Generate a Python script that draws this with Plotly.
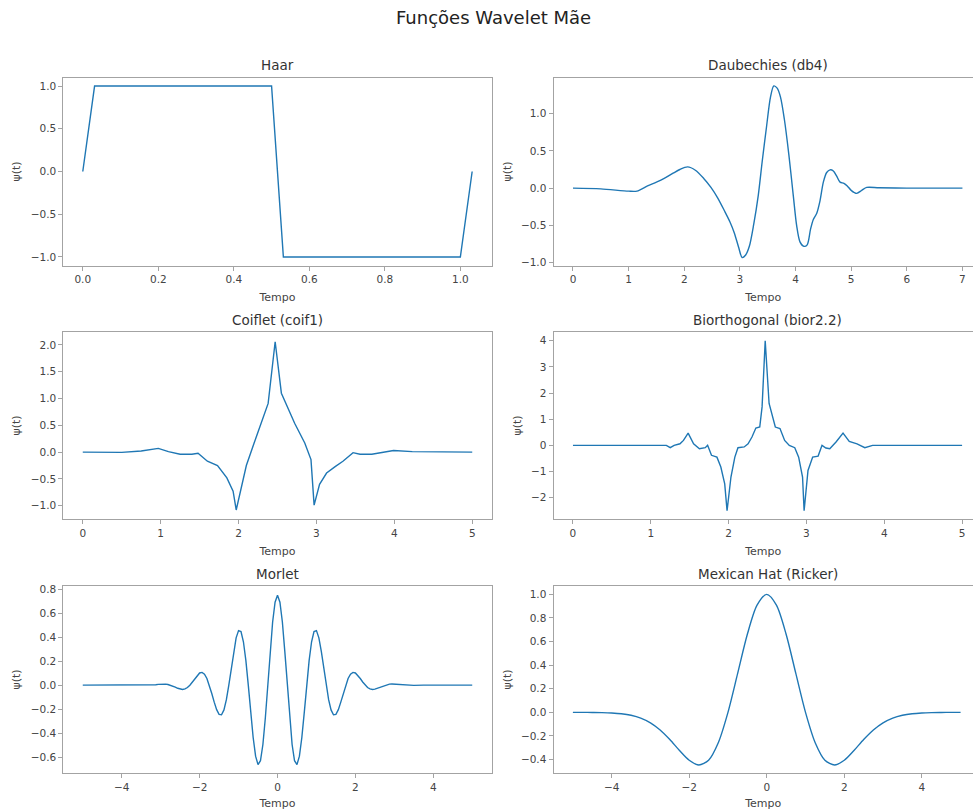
import plotly.graph_objects as go

# ---------------- data ----------------
haar_t = [0.0, 0.03125, 0.5, 0.53125, 1.0, 1.03125]
haar_psi = [0.0, 1.0, 1.0, -1.0, -1.0, 0.0]

db4_t = [0.0, 0.5, 1.0, 1.15, 1.34, 1.5, 1.64, 1.8, 1.92, 2.06, 2.2, 2.35, 2.48, 2.6,
         2.72, 2.82, 2.9, 2.98, 3.04, 3.1, 3.17, 3.25, 3.33, 3.4, 3.48, 3.55, 3.61,
         3.67, 3.73, 3.8, 3.88, 3.96, 4.02, 4.08, 4.15, 4.21, 4.27, 4.32, 4.38, 4.44,
         4.5, 4.56, 4.62, 4.68, 4.74, 4.8, 4.87, 4.93, 5.0, 5.1, 5.19, 5.28, 5.5, 6.0, 7.0]
db4_psi = [0.0, -0.01, -0.04, -0.04, 0.03, 0.08, 0.13, 0.2, 0.25, 0.285, 0.24, 0.13, 0.01,
           -0.13, -0.3, -0.45, -0.6, -0.8, -0.93, -0.9, -0.78, -0.48, -0.1, 0.35, 0.83,
           1.22, 1.37, 1.34, 1.22, 0.92, 0.45, -0.1, -0.5, -0.72, -0.78, -0.76, -0.55,
           -0.42, -0.34, -0.17, 0.08, 0.21, 0.245, 0.23, 0.16, 0.08, 0.065, 0.03, -0.03,
           -0.07, -0.03, 0.01, 0.005, 0.0, 0.0]

coif1_t = [0.0, 0.5, 0.75, 0.97, 1.1, 1.25, 1.4, 1.48, 1.6, 1.73, 1.85, 1.93, 1.97, 2.05,
           2.1, 2.2, 2.3, 2.38, 2.47, 2.55, 2.72, 2.85, 2.93, 2.97, 3.04, 3.13, 3.24, 3.34,
           3.47, 3.56, 3.71, 3.99, 4.23, 5.0]
coif1_psi = [0.0, -0.005, 0.02, 0.07, 0.01, -0.04, -0.04, -0.02, -0.17, -0.25, -0.48, -0.73,
             -1.08, -0.58, -0.25, 0.17, 0.6, 0.91, 2.06, 1.1, 0.54, 0.17, -0.14, -0.99, -0.6,
             -0.39, -0.27, -0.17, -0.01, -0.04, -0.04, 0.03, 0.01, 0.0]

bior_t = [0.0, 1.2, 1.25, 1.3, 1.375, 1.42, 1.48, 1.55, 1.625, 1.7, 1.73, 1.78, 1.85, 1.9,
          1.95, 1.98, 2.03, 2.08, 2.12, 2.2, 2.25, 2.3, 2.35, 2.4, 2.43, 2.47, 2.52, 2.57,
          2.6, 2.66, 2.72, 2.78, 2.85, 2.9, 2.95, 2.97, 3.02, 3.08, 3.15, 3.2, 3.25, 3.3,
          3.38, 3.47, 3.55, 3.65, 3.7, 3.75, 3.85, 3.9, 5.0]
bior_psi = [0.0, 0.0, -0.09, 0.0, 0.06, 0.19, 0.47, 0.06, -0.13, -0.09, 0.0, -0.38, -0.45,
            -0.83, -1.47, -2.5, -1.21, -0.45, -0.09, -0.06, 0.06, 0.32, 0.66, 0.7, 1.47, 4.0,
            1.6, 1.09, 0.7, 0.64, 0.19, 0.0, -0.09, -0.45, -1.21, -2.5, -0.96, -0.45, -0.41,
            0.0, -0.1, -0.13, 0.13, 0.47, 0.15, 0.06, 0.0, -0.09, 0.0, 0.0, 0.0]

morlet_t = [-5.0, -4.75, -4.5, -4.25, -4.0, -3.75,
            -3.5, -3.4375, -3.375, -3.3125, -3.25, -3.1875, -3.125, -3.0625,
            -3.0, -2.9375, -2.875, -2.8125, -2.75, -2.6875, -2.625, -2.5625,
            -2.5, -2.4375, -2.375, -2.3125, -2.25, -2.1875, -2.125, -2.0625,
            -2.0, -1.9375, -1.875, -1.8125, -1.75, -1.6875, -1.625, -1.5625,
            -1.5, -1.4375, -1.375, -1.3125, -1.25, -1.1875, -1.125, -1.0625,
            -1.0, -0.9375, -0.875, -0.8125, -0.75, -0.6875, -0.625, -0.5625,
            -0.5, -0.4375, -0.375, -0.3125, -0.25, -0.1875, -0.125, -0.0625,
            0.0,
            0.0625, 0.125, 0.1875, 0.25, 0.3125, 0.375, 0.4375, 0.5,
            0.5625, 0.625, 0.6875, 0.75, 0.8125, 0.875, 0.9375, 1.0,
            1.0625, 1.125, 1.1875, 1.25, 1.3125, 1.375, 1.4375, 1.5,
            1.5625, 1.625, 1.6875, 1.75, 1.8125, 1.875, 1.9375, 2.0,
            2.0625, 2.125, 2.1875, 2.25, 2.3125, 2.375, 2.4375, 2.5,
            2.5625, 2.625, 2.6875, 2.75, 2.8125, 2.875, 2.9375, 3.0,
            3.0625, 3.125, 3.1875, 3.25, 3.3125, 3.375, 3.4375, 3.5,
            3.75, 4.0, 4.25, 4.5, 4.75, 5.0]
morlet_psi = [0.0, 0.0, 0.0, 0.0, 0.0, 0.0,
              -0.0016, -0.0018, -0.0018, -0.0012, 0.0, 0.0018, 0.004, 0.0064,
              0.0083, 0.0092, 0.0085, 0.0055, 0.0, -0.0078, -0.0169, -0.0261,
              -0.033, -0.0356, -0.0317, -0.0198, 0.0, 0.0263, 0.0556, 0.0827,
              0.1016, 0.1062, 0.0916, 0.0556, 0.0, -0.0692, -0.1418, -0.2046,
              -0.2438, -0.247, -0.2065, -0.1215, 0.0, 0.142, 0.2821, 0.3946,
              0.4555, 0.4472, 0.362, 0.2066, 0.0, -0.2269, -0.437, -0.5923,
              -0.663, -0.6306, -0.495, -0.2737, 0.0, 0.2824, 0.5268, 0.6925,
              0.751,
              0.6925, 0.5268, 0.2824, 0.0, -0.2737, -0.495, -0.6306, -0.663,
              -0.5923, -0.437, -0.2269, 0.0, 0.2066, 0.362, 0.4472, 0.4555,
              0.3946, 0.2821, 0.142, 0.0, -0.1215, -0.2065, -0.247, -0.2438,
              -0.2046, -0.1418, -0.0692, 0.0, 0.0556, 0.0916, 0.1062, 0.1016,
              0.0827, 0.0556, 0.0263, 0.0, -0.0198, -0.0317, -0.0356, -0.033,
              -0.0261, -0.0169, -0.0078, 0.0, 0.0055, 0.0085, 0.0092, 0.0083,
              0.0064, 0.004, 0.0018, 0.0, -0.0012, -0.0018, -0.0018, -0.0016,
              0.0, 0.0, 0.0, 0.0, 0.0, 0.0]

mexhat_t = [-5.0, -4.75, -4.5, -4.25, -4.0, -3.75, -3.5, -3.25, -3.0, -2.75, -2.5, -2.25,
            -2.0, -1.75, -1.5, -1.25, -1.0, -0.75, -0.5, -0.25, 0.0, 0.25, 0.5, 0.75, 1.0,
            1.25, 1.5, 1.75, 2.0, 2.25, 2.5, 2.75, 3.0, 3.25, 3.5, 3.75, 4.0, 4.25, 4.5,
            4.75, 5.0]
mexhat_psi = [-0.0001, -0.0003, -0.0008, -0.002, -0.005, -0.0115, -0.0246, -0.0487, -0.0889,
              -0.1496, -0.2305, -0.3234, -0.406, -0.4461, -0.4059, -0.2575, 0.0, 0.3302,
              0.6619, 0.9086, 1.0, 0.9086, 0.6619, 0.3302, 0.0, -0.2575, -0.4059, -0.4461,
              -0.406, -0.3234, -0.2305, -0.1496, -0.0889, -0.0487, -0.0246, -0.0115, -0.005,
              -0.002, -0.0008, -0.0003, -0.0001]

titles = ["Haar", "Daubechies (db4)", "Coiflet (coif1)", "Biorthogonal (bior2.2)",
          "Morlet", "Mexican Hat (Ricker)"]
main_title = "Funções Wavelet Mãe"
x_label = "Tempo"
y_label = "ψ(t)"

haar_xticks = [0.0, 0.2, 0.4, 0.6, 0.8, 1.0]
haar_yticks = [-1.0, -0.5, 0.0, 0.5, 1.0]
db4_xticks = [0, 1, 2, 3, 4, 5, 6, 7]
db4_yticks = [-1.0, -0.5, 0.0, 0.5, 1.0]
coif1_xticks = [0, 1, 2, 3, 4, 5]
coif1_yticks = [-1.0, -0.5, 0.0, 0.5, 1.0, 1.5, 2.0]
bior_xticks = [0, 1, 2, 3, 4, 5]
bior_yticks = [-2, -1, 0, 1, 2, 3, 4]
morlet_xticks = [-4, -2, 0, 2, 4]
morlet_yticks = [-0.6, -0.4, -0.2, 0.0, 0.2, 0.4, 0.6, 0.8]
mexhat_xticks = [-4, -2, 0, 2, 4]
mexhat_yticks = [-0.4, -0.2, 0.0, 0.2, 0.4, 0.6, 0.8, 1.0]

# ---------------- layout helpers ----------------
W, H = 973, 810
FONT = "DejaVu Sans"
LINE_BLUE = "#1f77b4"
FRAME = "#a3a3a3"
TICK_SIZE = 10.5
LABEL_SIZE = 11

def px_x(p):
    return p / W

def px_y(p):
    return 1 - p / H

col_dom = [[px_x(63.3), px_x(491.7)], [px_x(553.5), 1.0]]
row_dom = [[px_y(265.5), px_y(77.5)], [px_y(519.3), px_y(331.7)], [px_y(773.0), px_y(586.0)]]

panels = [
    dict(t=haar_t, y=haar_psi, shape="linear", xr=[-0.0516, 1.083], yr=[-1.1, 1.1],
         xt=haar_xticks, yt=haar_yticks, xf=".1f", yf=".1f"),
    dict(t=db4_t, y=db4_psi, shape="spline", xr=[-0.35, 7.19], yr=[-1.037, 1.483],
         xt=db4_xticks, yt=db4_yticks, xf="d", yf=".1f"),
    dict(t=coif1_t, y=coif1_psi, shape="linear", xr=[-0.25, 5.25], yr=[-1.254, 2.248],
         xt=coif1_xticks, yt=coif1_yticks, xf="d", yf=".1f"),
    dict(t=bior_t, y=bior_psi, shape="linear", xr=[-0.25, 5.14], yr=[-2.826, 4.344],
         xt=bior_xticks, yt=bior_yticks, xf="d", yf="d"),
    dict(t=morlet_t, y=morlet_psi, shape="linear", xr=[-5.5, 5.5], yr=[-0.733, 0.8275],
         xt=morlet_xticks, yt=morlet_yticks, xf="d", yf=".1f"),
    dict(t=mexhat_t, y=mexhat_psi, shape="spline", xr=[-5.5, 5.32], yr=[-0.514, 1.071],
         xt=mexhat_xticks, yt=mexhat_yticks, xf="d", yf=".1f"),
]

fig = go.Figure()
layout = dict(
    width=W, height=H,
    margin=dict(l=0, r=0, t=0, b=0, pad=0),
    paper_bgcolor="white", plot_bgcolor="white",
    showlegend=False,
    font=dict(family=FONT, color="#444"),
)
annotations = []
left_w = px_x(491.7) - px_x(63.3)

for i, p in enumerate(panels):
    n = i + 1
    col = i % 2
    row = i // 2
    xa = "x" if n == 1 else f"x{n}"
    ya = "y" if n == 1 else f"y{n}"
    fig.add_trace(go.Scatter(
        x=p["t"], y=p["y"], mode="lines",
        line=dict(color=LINE_BLUE, width=1.4, shape=p["shape"], smoothing=0.8),
        xaxis=xa, yaxis=ya, hoverinfo="skip",
    ))
    common = dict(showline=True, linecolor=FRAME, linewidth=1, ticks="outside",
                  ticklen=4, tickwidth=1, tickcolor=FRAME, showgrid=False, zeroline=False,
                  automargin=False,
                  tickfont=dict(family=FONT, size=TICK_SIZE, color="#444"))
    layout["xaxis" if n == 1 else f"xaxis{n}"] = dict(
        common, domain=col_dom[col], anchor=ya, range=p["xr"], tickvals=p["xt"],
        tickformat=p["xf"], mirror=True,
        title=dict(text=x_label, font=dict(family=FONT, size=LABEL_SIZE, color="#444"),
                   standoff=9),
    )
    layout["yaxis" if n == 1 else f"yaxis{n}"] = dict(
        common, domain=row_dom[row], anchor=xa, range=p["yr"], tickvals=p["yt"],
        tickformat=p["yf"], mirror=(col == 0),
        title=dict(text=y_label, font=dict(family=FONT, size=LABEL_SIZE, color="#444"),
                   standoff=7),
    )
    cx = col_dom[col][0] + left_w / 2
    annotations.append(dict(
        text=titles[i], x=cx, y=row_dom[row][1], xref="paper", yref="paper",
        xanchor="center", yanchor="bottom", yshift=2, showarrow=False,
        font=dict(family=FONT, size=13.5, color="#333"),
    ))

annotations.append(dict(
    text=main_title, x=px_x(493.5), y=px_y(17), xref="paper", yref="paper",
    xanchor="center", yanchor="middle", showarrow=False,
    font=dict(family=FONT, size=18, color="#222"),
))
layout["annotations"] = annotations
fig.update_layout(**layout)

fig.write_html(
    "out.html",
    config={"displayModeBar": False},
    post_script="document.body.style.margin='0px';document.body.style.padding='0px';"
                "document.body.style.overflow='hidden';",
)
